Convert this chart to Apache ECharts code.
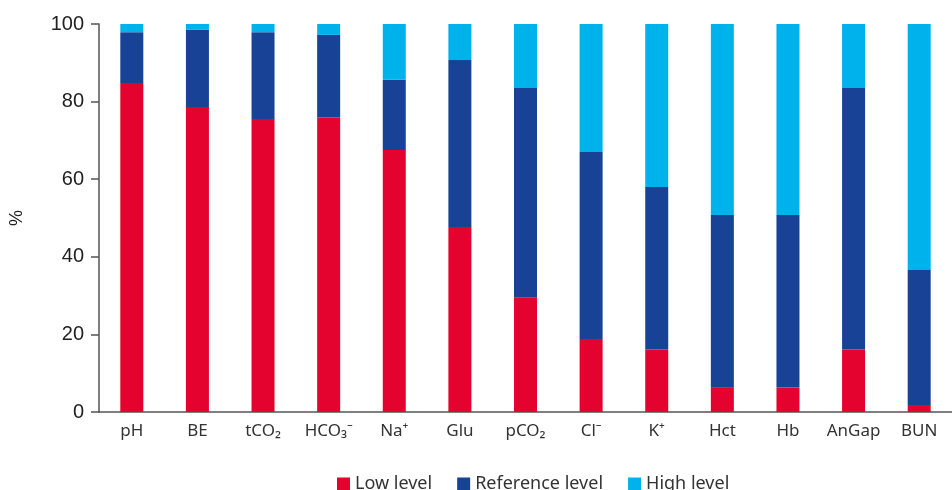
<!DOCTYPE html>
<html>
<head>
<meta charset="utf-8">
<script src="https://cdn.jsdelivr.net/npm/echarts@6/dist/echarts.min.js"></script>
<style>
  html, body { margin: 0; padding: 0; background: #fff; }
  #chart { width: 952px; height: 490px; }
</style>
</head>
<body>
<div id="chart"></div>
<script>
// 检验项目
var categories = ['pH', 'BE', 'tCO₂', 'HCO₃⁻', 'Na⁺', 'Glu', 'pCO₂', 'Cl⁻', 'K⁺', 'Hct', 'Hb', 'AnGap', 'BUN'];
// 各水平所占百分比
var lowLevel = [84.8, 78.6, 75.5, 75.9, 67.5, 47.7, 29.6, 18.8, 16.1, 6.4, 6.3, 16.1, 1.8];
var referenceLevel = [13.1, 19.9, 22.4, 21.3, 18.1, 43.0, 53.9, 48.2, 41.9, 44.4, 44.5, 67.4, 34.8];
var highLevel = [2.1, 1.5, 2.1, 2.8, 14.4, 9.3, 16.5, 33.0, 42.0, 49.2, 49.2, 16.5, 63.4];
var yTicks = [0, 20, 40, 60, 80, 100];

var seriesNames = ['Low level', 'Reference level', 'High level'];
var colors = ['#E4032E', '#174295', '#00B2EC'];

function makeSeries(name, data, color) {
    return {
        name: name,
        type: 'bar',
        stack: 'total',
        barWidth: 23,
        data: data,
        itemStyle: { color: color },
        emphasis: { disabled: true }
    };
}

var option = {
    animation: false,
    color: colors,
    grid: { left: 99, right: -9, top: 24, bottom: 78 },
    legend: {
        top: 470,
        left: 332,
        icon: 'rect',
        itemWidth: 13,
        itemHeight: 13,
        itemGap: 25,
        textStyle: { fontFamily: 'Noto Sans', fontSize: 18, color: '#333' },
        data: seriesNames
    },
    xAxis: {
        type: 'category',
        data: categories,
        axisLine: { lineStyle: { color: '#555', width: 1.5 } },
        axisTick: { alignWithLabel: true, length: 7, lineStyle: { color: '#555', width: 1.5 } },
        axisLabel: { interval: 0, fontFamily: 'Noto Sans', fontSize: 17, color: '#333', margin: 11 }
    },
    yAxis: {
        type: 'value',
        min: yTicks[0],
        max: yTicks[yTicks.length - 1],
        interval: 20,
        name: '%',
        nameLocation: 'middle',
        nameRotate: 90,
        nameGap: 73,
        nameTextStyle: { fontFamily: 'Liberation Sans', fontSize: 18, color: '#222' },
        splitLine: { show: false },
        axisLine: { show: true, lineStyle: { color: '#555', width: 1.5 } },
        axisTick: { show: true, length: 8, lineStyle: { color: '#555', width: 1.5 } },
        axisLabel: { fontFamily: 'Liberation Sans', fontSize: 20, color: '#222', margin: 15 }
    },
    series: [
        makeSeries(seriesNames[0], lowLevel, colors[0]),
        makeSeries(seriesNames[1], referenceLevel, colors[1]),
        makeSeries(seriesNames[2], highLevel, colors[2])
    ]
};

echarts.init(document.getElementById('chart')).setOption(option);
</script>
</body>
</html>
